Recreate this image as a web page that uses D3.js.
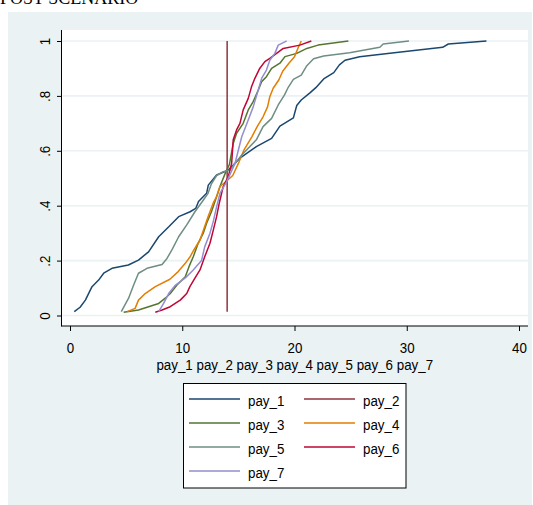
<!DOCTYPE html>
<html>
<head>
<meta charset="utf-8">
<script src="https://cdn.jsdelivr.net/npm/d3@7"></script>
<style>
  html, body { margin: 0; padding: 0; background: #ffffff; }
  svg { display: block; }
  text { font-family: "Liberation Sans", Arial, sans-serif; fill: #000; }
</style>
</head>
<body>
<svg id="chart" width="533" height="505"></svg>
<script>
// ---------- data ----------
const seriesNames = ["pay_1", "pay_2", "pay_3", "pay_4", "pay_5", "pay_6", "pay_7"];
const seriesColors = ["#1a476f", "#90353b", "#55752f", "#e37e00", "#6e8e84", "#c10534", "#938dd2"];

const xTicks = [0, 10, 20, 30, 40];
const xTickLabels = ["0", "10", "20", "30", "40"];
const yTicks = [0, 0.2, 0.4, 0.6, 0.8, 1];
const yTickLabels = ["0", ".2", ".4", ".6", ".8", "1"];
const xTitle = "pay_1 pay_2 pay_3 pay_4 pay_5 pay_6 pay_7";
const chartTitle = "POST SCENARIO";

const pay1_x = [0.38, 0.9, 1.37, 1.96, 2.55, 3.0, 3.74, 5.2, 6.1, 7.0, 7.9, 8.8, 9.68, 10.7, 11.2, 11.45, 12.17, 12.32, 13.06, 13.8, 14.1, 15.14, 16.6, 17.96, 18.7, 19.9, 20.2, 20.6, 21.4, 21.9, 22.6, 23.5, 24.0, 24.5, 25.8, 28.5, 33.2, 33.7, 37.1];
const pay1_p = [0.014, 0.03, 0.056, 0.105, 0.129, 0.154, 0.172, 0.184, 0.202, 0.232, 0.287, 0.323, 0.36, 0.378, 0.39, 0.415, 0.445, 0.475, 0.512, 0.524, 0.53, 0.573, 0.615, 0.645, 0.69, 0.72, 0.765, 0.785, 0.812, 0.83, 0.862, 0.885, 0.913, 0.93, 0.943, 0.955, 0.977, 0.989, 1.0];

const pay2_x = [14, 14];
const pay2_p = [0.014, 1.0];

const pay3_x = [4.78, 6.1, 7.0, 7.9, 8.49, 8.93, 9.53, 10.27, 10.6, 10.98, 11.42, 11.87, 12.17, 12.6, 13.06, 13.36, 13.8, 14.2, 14.54, 14.84, 15.43, 15.88, 16.32, 16.77, 17.07, 17.5, 17.96, 18.7, 19.15, 20.2, 21.1, 22.1, 24.8];
const pay3_p = [0.012, 0.02, 0.032, 0.044, 0.063, 0.08, 0.111, 0.141, 0.178, 0.214, 0.263, 0.30, 0.336, 0.378, 0.433, 0.47, 0.515, 0.55, 0.627, 0.664, 0.70, 0.749, 0.779, 0.821, 0.852, 0.87, 0.90, 0.919, 0.943, 0.955, 0.973, 0.985, 1.0];

const pay4_x = [5.1, 5.8, 6.1, 6.7, 7.6, 8.9, 9.64, 10.27, 10.7, 10.98, 11.58, 12.0, 12.3, 12.76, 13.06, 13.36, 13.95, 14.5, 15.0, 15.5, 16.2, 16.7, 17.2, 17.6, 17.8, 18.1, 18.6, 18.95, 19.5, 20.0, 20.3, 20.5, 20.6];
const pay4_p = [0.014, 0.026, 0.056, 0.08, 0.105, 0.132, 0.16, 0.19, 0.214, 0.235, 0.275, 0.324, 0.36, 0.41, 0.433, 0.47, 0.49, 0.51, 0.554, 0.603, 0.651, 0.69, 0.724, 0.76, 0.797, 0.828, 0.858, 0.89, 0.919, 0.943, 0.973, 0.991, 1.0];

const pay5_x = [4.57, 5.22, 5.67, 6.1, 6.86, 8.2, 8.64, 9.08, 9.68, 10.4, 11.13, 11.87, 12.3, 12.6, 13.06, 13.65, 14.25, 15.3, 16.6, 17.2, 17.96, 18.55, 19.1, 19.4, 19.9, 20.6, 21.1, 21.7, 22.6, 24.9, 27.6, 27.9, 30.2];
const pay5_p = [0.014, 0.063, 0.111, 0.154, 0.172, 0.186, 0.208, 0.239, 0.287, 0.33, 0.378, 0.42, 0.445, 0.48, 0.51, 0.524, 0.53, 0.585, 0.64, 0.688, 0.718, 0.767, 0.803, 0.828, 0.86, 0.876, 0.91, 0.935, 0.945, 0.957, 0.977, 0.989, 1.0];

const pay6_x = [7.6, 8.2, 8.93, 9.82, 10.4, 10.68, 11.13, 11.58, 12.0, 12.47, 12.76, 13.06, 13.3, 13.65, 14.1, 14.4, 14.54, 14.84, 15.14, 15.43, 15.88, 16.17, 16.47, 16.9, 17.36, 17.8, 18.4, 19.0, 20.48, 21.5];
const pay6_p = [0.012, 0.02, 0.032, 0.056, 0.08, 0.105, 0.136, 0.166, 0.214, 0.263, 0.31, 0.36, 0.41, 0.47, 0.506, 0.554, 0.64, 0.676, 0.70, 0.749, 0.791, 0.833, 0.864, 0.90, 0.925, 0.937, 0.955, 0.973, 0.985, 1.0];

const pay7_x = [7.9, 8.34, 8.79, 9.4, 10.3, 10.98, 11.72, 12.0, 12.47, 12.76, 13.06, 13.36, 13.95, 14.7, 15.0, 15.3, 15.88, 16.32, 16.77, 17.07, 17.5, 17.8, 18.25, 18.55, 19.14, 19.3];
const pay7_p = [0.014, 0.044, 0.08, 0.111, 0.138, 0.166, 0.20, 0.25, 0.30, 0.342, 0.396, 0.445, 0.487, 0.554, 0.603, 0.651, 0.712, 0.76, 0.821, 0.864, 0.894, 0.93, 0.955, 0.985, 0.997, 1.0];

const seriesX = [pay1_x, pay2_x, pay3_x, pay4_x, pay5_x, pay6_x, pay7_x];
const seriesP = [pay1_p, pay2_p, pay3_p, pay4_p, pay5_p, pay6_p, pay7_p];

// ---------- layout ----------
const W = 533, H = 505;
const plot = { left: 61.5, right: 528, top: 30, bottom: 326 };
const SX = 0.89; // horizontal squeeze of the narrow font

const svg = d3.select("#chart");

// outer graph region
svg.append("rect").attr("x", 8).attr("y", 12).attr("width", W - 8 - 1).attr("height", H - 12)
  .attr("fill", "#eaf2f3");

// title, partly cut at the top edge
svg.append("text").attr("x", 0).attr("y", 4)
  .style("font-family", "'Liberation Serif', 'Times New Roman', serif")
  .style("font-size", "18px").text(chartTitle);

// plot region
svg.append("rect").attr("x", plot.left).attr("y", plot.top)
  .attr("width", plot.right - plot.left).attr("height", plot.bottom - plot.top)
  .attr("fill", "#ffffff");

const x = d3.scaleLinear().domain([0, 40]).range([70, 519]);
const y = d3.scaleLinear().domain([0, 1]).range([315.5, 41]);

// gridlines
svg.append("g").selectAll("line").data(yTicks).join("line")
  .attr("x1", plot.left + 1).attr("x2", plot.right)
  .attr("y1", d => y(d)).attr("y2", d => y(d))
  .attr("stroke", "#eaf2f3").attr("stroke-width", 1.6);

// lines
const line = d3.line().x(d => x(d[0])).y(d => y(d[1]));
const linesG = svg.append("g");
seriesNames.forEach((name, i) => {
  const pts = seriesX[i].map((v, k) => [v, seriesP[i][k]]);
  linesG.append("path").datum(pts)
    .attr("d", line)
    .attr("fill", "none")
    .attr("stroke", seriesColors[i])
    .attr("stroke-width", 1.5)
    .attr("stroke-linejoin", "round");
});

// y axis
const yAxis = d3.axisLeft(y).tickValues(yTicks).tickSize(4.5).tickFormat((d, i) => yTickLabels[i]);
const yg = svg.append("g").attr("transform", `translate(${plot.left},0)`).call(yAxis);
yg.select(".domain").remove();
yg.selectAll(".tick line").attr("stroke", "#000").attr("stroke-width", 1);
yg.selectAll(".tick text")
  .attr("x", null).attr("dy", null)
  .attr("text-anchor", "middle")
  .attr("transform", `translate(-12,0) rotate(-90) scale(${SX},1)`)
  .style("font-size", "15px")
  .style("font-family", "'Liberation Sans', Arial, sans-serif")
  .attr("fill", "#000");

// x axis
const xAxis = d3.axisBottom(x).tickValues(xTicks).tickSize(5).tickFormat((d, i) => xTickLabels[i]);
const xg = svg.append("g").attr("transform", `translate(0,${plot.bottom})`).call(xAxis);
xg.select(".domain").remove();
xg.selectAll(".tick line").attr("stroke", "#000").attr("stroke-width", 1);
xg.selectAll(".tick text")
  .attr("y", 27.3).attr("dy", null)
  .attr("transform", `scale(${SX},1)`)
  .style("font-size", "15px")
  .style("font-family", "'Liberation Sans', Arial, sans-serif")
  .attr("fill", "#000");

// axis lines
svg.append("line").attr("x1", plot.left).attr("x2", plot.left)
  .attr("y1", plot.top).attr("y2", plot.bottom + 0.5)
  .attr("stroke", "#000").attr("stroke-width", 1);
svg.append("line").attr("x1", plot.left).attr("x2", plot.right)
  .attr("y1", plot.bottom).attr("y2", plot.bottom)
  .attr("stroke", "#000").attr("stroke-width", 1);

// x title
svg.append("text")
  .attr("transform", `translate(${(plot.left + plot.right) / 2},369.5) scale(${SX},1)`)
  .attr("text-anchor", "middle")
  .style("font-size", "15px")
  .text(xTitle);

// legend
const lg = svg.append("g");
lg.append("rect").attr("x", 183.5).attr("y", 383.5).attr("width", 222.5).attr("height", 104.5)
  .attr("fill", "#ffffff").attr("stroke", "#000").attr("stroke-width", 1);
seriesNames.forEach((name, i) => {
  const col = i % 2, row = Math.floor(i / 2);
  const lx = 189 + col * 115;
  const ly = 399 + row * 24;
  lg.append("line").attr("x1", lx).attr("x2", lx + 51).attr("y1", ly).attr("y2", ly)
    .attr("stroke", seriesColors[i]).attr("stroke-width", 1.5);
  lg.append("text")
    .attr("transform", `translate(${lx + 59},${ly + 7}) scale(${SX},1)`)
    .style("font-size", "15px")
    .text(name);
});
</script>
</body>
</html>
